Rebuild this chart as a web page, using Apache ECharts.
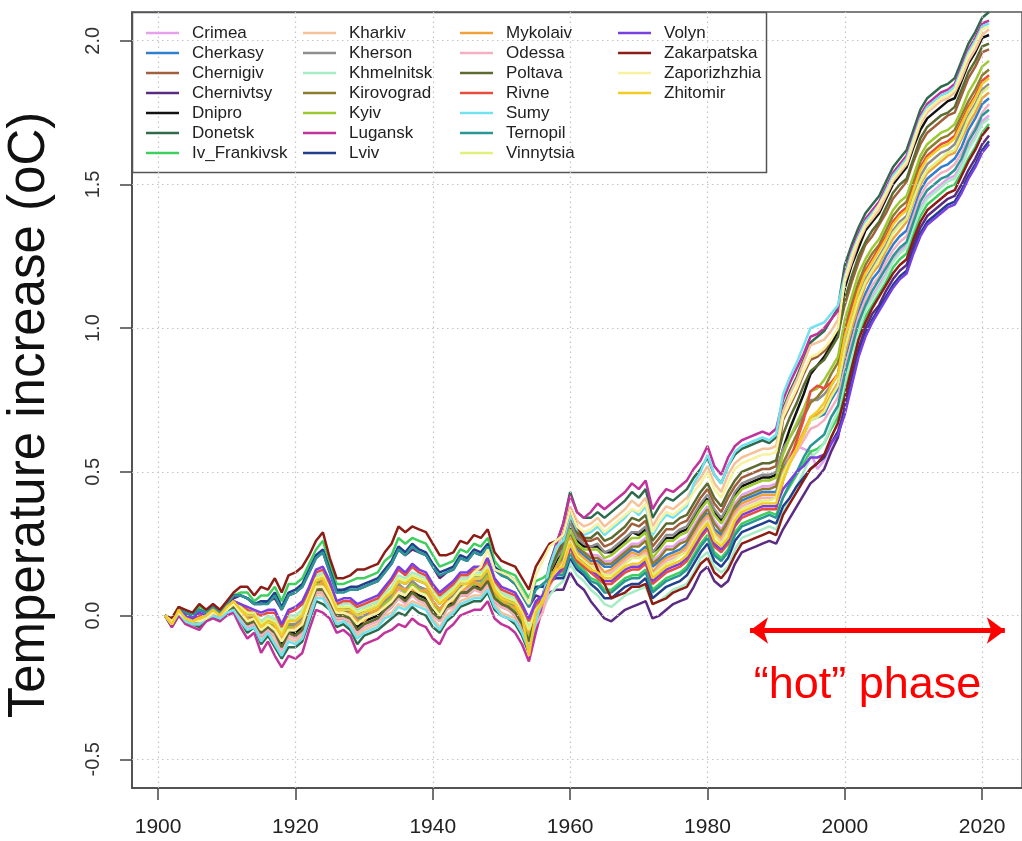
<!DOCTYPE html>
<html><head><meta charset="utf-8">
<script src="https://cdn.jsdelivr.net/npm/echarts@6/dist/echarts.min.js"></script>
<style>html,body{margin:0;padding:0;background:#fff;}#c{width:1022px;height:841px;}</style>
</head><body><div id="c"></div>
<script>
const years = [1901,1902,1903,1904,1905,1906,1907,1908,1909,1910,
1911,1912,1913,1914,1915,1916,1917,1918,1919,1920,
1921,1922,1923,1924,1925,1926,1927,1928,1929,1930,
1931,1932,1933,1934,1935,1936,1937,1938,1939,1940,
1941,1942,1943,1944,1945,1946,1947,1948,1949,1950,
1951,1952,1953,1954,1955,1956,1957,1958,1959,1960,
1961,1962,1963,1964,1965,1966,1967,1968,1969,1970,
1971,1972,1973,1974,1975,1976,1977,1978,1979,1980,
1981,1982,1983,1984,1985,1986,1987,1988,1989,1990,
1991,1992,1993,1994,1995,1996,1997,1998,1999,2000,
2001,2002,2003,2004,2005,2006,2007,2008,2009,2010,
2011,2012,2013,2014,2015,2016,2017,2018,2019,2020,
2021];
const regionNames = ['Crimea','Cherkasy','Chernigiv','Chernivtsy','Dnipro','Donetsk','Iv_Frankivsk',
'Kharkiv','Kherson','Khmelnitsk','Kirovograd','Kyiv','Lugansk','Lviv',
'Mykolaiv','Odessa','Poltava','Rivne','Sumy','Ternopil','Vinnytsia',
'Volyn','Zakarpatska','Zaporizhzhia','Zhitomir'];
const regionColors = ['#e6a0ee','#2e7fd1','#a0603c','#5b2b82','#111111','#2f6a4c','#3fcf5e',
'#f6c29a','#8e8e8e','#a6ecc4','#8c7c2c','#9dc832','#c0329c','#223f8e',
'#f2a23a','#f4afc2','#5c6b30','#e94b3c','#72e2f0','#2a9696','#e2f07e',
'#7a3fe0','#8c1c16','#f8f1a0','#f2cc22'];
const xTicks = [1900,1920,1940,1960,1980,2000,2020];
const yTicks = [-0.5,0,0.5,1,1.5,2];

const crimea = [0,-.03,.01,-.01,-.02,-.02,-.01,.01,-.01,.02,
.03,.01,-.02,-.01,-.05,-.03,-.05,-.09,-.04,-.05,
-.03,.04,.10,.11,.06,.01,.01,0,-.03,-.01,
0,.01,.04,.06,.09,.08,.10,.09,.08,.04,
.01,.04,.06,.09,.09,.11,.11,.14,.07,.05,
.04,.02,-.02,-.07,0,.05,.13,.17,.21,.29,
.24,.22,.21,.21,.19,.19,.21,.23,.25,.25,
.27,.19,.21,.24,.24,.26,.27,.31,.35,.38,
.33,.30,.34,.39,.42,.43,.44,.45,.45,.46,
.52,.56,.59,.58,.57,.51,.54,.59,.64,.82,
.91,1.00,1.07,1.11,1.15,1.19,1.24,1.27,1.29,1.36,
1.42,1.46,1.48,1.50,1.52,1.53,1.57,1.63,1.67,1.72,
1.74];
const cherkasy = [0,-.03,.01,-.01,-.02,-.01,0,.01,0,.02,
.04,.02,0,0,-.03,-.01,-.02,-.06,-.01,-.02,
.01,.07,.13,.14,.08,.03,.03,.02,0,.02,
.03,.04,.07,.09,.12,.11,.13,.12,.11,.07,
.04,.07,.08,.12,.12,.14,.13,.16,.09,.07,
.06,.04,0,-.05,.02,.06,.13,.17,.20,.28,
.23,.21,.19,.19,.17,.17,.19,.21,.23,.22,
.24,.17,.19,.21,.22,.23,.25,.29,.33,.36,
.30,.28,.32,.37,.40,.41,.42,.43,.43,.43,
.51,.55,.59,.63,.68,.69,.70,.75,.79,.89,
.98,1.06,1.12,1.17,1.20,1.25,1.29,1.32,1.34,1.41,
1.48,1.52,1.54,1.56,1.57,1.59,1.63,1.69,1.73,1.78,
1.80];
const chernigiv = [0,-.02,.01,0,-.02,-.01,-.01,.01,0,.02,
.04,.02,-.01,0,-.04,-.02,-.04,-.08,-.03,-.04,
-.02,.05,.11,.12,.07,.02,.02,.01,-.02,0,
.01,.02,.05,.07,.10,.09,.11,.10,.09,.05,
.02,.05,.07,.10,.10,.12,.12,.15,.08,.06,
.05,.03,-.01,-.06,.01,.07,.15,.20,.25,.33,
.28,.26,.26,.27,.24,.25,.27,.29,.32,.31,
.33,.24,.27,.30,.30,.32,.33,.37,.41,.44,
.39,.36,.41,.45,.48,.49,.50,.51,.51,.52,
.68,.73,.78,.84,.89,.90,.92,.95,.99,1.08,
1.16,1.23,1.29,1.32,1.36,1.40,1.45,1.48,1.51,1.58,
1.64,1.68,1.70,1.72,1.74,1.75,1.81,1.87,1.91,1.96,
1.97];
const chernivtsy = [0,-.02,.02,.01,0,.02,.01,.03,.01,.04,
.06,.07,.06,.04,.04,.05,.06,.02,.07,.08,
.10,.15,.20,.22,.15,.08,.09,.09,.09,.10,
.11,.12,.15,.18,.23,.21,.23,.22,.21,.17,
.13,.15,.16,.20,.19,.22,.21,.24,.16,.14,
.13,.11,.07,.03,.07,.06,.08,.09,.09,.15,
.11,.09,.05,.02,-.01,-.02,0,.02,.03,.04,
.05,-.01,0,.02,.04,.05,.06,.10,.15,.17,
.12,.10,.12,.18,.22,.23,.24,.25,.26,.25,
.30,.34,.38,.42,.46,.48,.51,.57,.62,.73,
.83,.93,1.00,1.05,1.08,1.13,1.17,1.20,1.22,1.29,
1.35,1.39,1.41,1.43,1.45,1.46,1.50,1.55,1.59,1.64,
1.67];
const dnipro = [0,-.03,.01,-.02,-.03,-.02,-.01,.01,-.01,.02,
.03,0,-.03,-.02,-.06,-.04,-.06,-.10,-.06,-.06,
-.04,.03,.09,.09,.05,0,0,-.01,-.04,-.02,
-.01,0,.02,.04,.07,.06,.09,.07,.06,.02,
-.01,.03,.05,.08,.08,.10,.10,.13,.06,.04,
.03,.01,-.03,-.09,0,.05,.14,.19,.23,.31,
.26,.24,.24,.24,.22,.22,.24,.26,.29,.28,
.30,.22,.24,.27,.27,.29,.30,.34,.38,.41,
.36,.33,.38,.42,.45,.46,.47,.48,.48,.49,
.58,.65,.71,.77,.84,.87,.90,.94,.99,1.14,
1.22,1.28,1.34,1.37,1.40,1.45,1.50,1.53,1.56,1.63,
1.69,1.73,1.75,1.77,1.79,1.80,1.86,1.92,1.96,2.01,
2.02];
const donetsk = [0,-.04,0,-.02,-.03,-.04,-.02,0,-.02,.01,
.02,-.02,-.06,-.04,-.10,-.07,-.11,-.15,-.11,-.11,
-.09,-.02,.05,.04,.02,-.04,-.03,-.05,-.10,-.07,
-.06,-.05,-.03,-.01,.01,0,.03,.01,0,-.04,
-.06,-.02,0,.03,.04,.05,.05,.08,.02,0,
-.01,-.03,-.07,-.13,-.03,.06,.18,.25,.32,.43,
.36,.34,.34,.36,.34,.36,.38,.40,.43,.41,
.44,.34,.38,.41,.40,.42,.44,.48,.51,.55,
.49,.46,.52,.56,.58,.59,.60,.61,.60,.62,
.72,.78,.83,.89,.95,.97,.99,1.03,1.07,1.22,
1.29,1.35,1.40,1.43,1.46,1.51,1.56,1.59,1.62,1.69,
1.76,1.80,1.82,1.84,1.85,1.87,1.93,1.99,2.03,2.08,
2.10];
const ivFrankivsk = [0,-.01,.03,.01,0,.03,.02,.03,.02,.04,
.07,.08,.08,.05,.07,.07,.10,.05,.11,.11,
.13,.18,.23,.26,.18,.11,.11,.12,.13,.13,
.14,.15,.19,.21,.27,.25,.27,.26,.25,.21,
.17,.18,.19,.23,.22,.25,.24,.27,.19,.16,
.15,.14,.10,.06,.12,.13,.15,.15,.15,.22,
.18,.16,.13,.12,.09,.09,.11,.13,.14,.14,
.16,.09,.11,.13,.14,.15,.17,.21,.25,.28,
.22,.20,.23,.29,.32,.33,.34,.35,.36,.35,
.41,.45,.49,.53,.57,.58,.60,.65,.69,.78,
.88,.97,1.04,1.08,1.12,1.16,1.21,1.24,1.26,1.33,
1.39,1.43,1.45,1.47,1.49,1.50,1.54,1.59,1.63,1.68,
1.71];
const kharkiv = [0,-.03,.01,-.02,-.03,-.03,-.01,0,-.01,.01,
.02,-.01,-.04,-.03,-.08,-.05,-.09,-.13,-.08,-.09,
-.07,0,.07,.07,.03,-.02,-.01,-.03,-.07,-.05,
-.04,-.03,0,.01,.04,.03,.05,.04,.03,-.01,
-.04,0,.02,.05,.06,.07,.07,.10,.04,.01,
0,-.01,-.05,-.11,-.01,.06,.17,.23,.29,.38,
.33,.31,.32,.34,.31,.33,.35,.37,.40,.38,
.41,.31,.35,.38,.37,.39,.41,.45,.48,.52,
.46,.43,.49,.53,.55,.56,.57,.58,.58,.59,
.71,.77,.82,.88,.94,.95,.96,.99,1.03,1.16,
1.23,1.30,1.35,1.38,1.41,1.46,1.51,1.54,1.57,1.64,
1.71,1.75,1.77,1.79,1.80,1.82,1.87,1.93,1.97,2.02,
2.04];
const kherson = [0,-.03,.01,-.01,-.02,-.01,0,.01,0,.02,
.04,.02,-.01,-.01,-.04,-.02,-.03,-.08,-.03,-.03,
-.01,.05,.12,.12,.07,.02,.02,.01,-.01,0,
.01,.02,.05,.07,.11,.09,.12,.10,.09,.05,
.02,.05,.07,.10,.11,.12,.12,.15,.08,.06,
.05,.03,-.01,-.06,.02,.07,.15,.20,.23,.32,
.27,.25,.24,.25,.22,.23,.25,.27,.29,.29,
.31,.22,.25,.28,.28,.30,.31,.35,.39,.42,
.37,.34,.38,.43,.46,.47,.48,.49,.49,.50,
.58,.62,.66,.70,.75,.75,.77,.80,.84,.94,
1.03,1.11,1.17,1.21,1.25,1.29,1.34,1.37,1.39,1.46,
1.53,1.57,1.59,1.61,1.62,1.64,1.69,1.74,1.78,1.83,
1.85];
const khmelnitsk = [0,-.03,.02,-.01,-.02,-.01,0,.02,0,.03,
.05,.03,.01,.01,-.02,0,-.01,-.05,0,0,
.02,.08,.14,.15,.10,.04,.04,.04,.02,.03,
.04,.05,.08,.10,.14,.13,.15,.14,.13,.09,
.06,.08,.10,.13,.13,.15,.15,.18,.11,.08,
.07,.06,.02,-.04,.01,.02,.07,.10,.12,.18,
.14,.12,.09,.07,.04,.03,.05,.07,.08,.09,
.10,.04,.05,.07,.09,.10,.11,.15,.20,.22,
.17,.15,.17,.23,.27,.28,.29,.30,.31,.30,
.36,.41,.45,.50,.55,.57,.60,.66,.71,.81,
.90,.99,1.06,1.10,1.14,1.18,1.23,1.26,1.28,1.35,
1.41,1.45,1.47,1.49,1.51,1.52,1.56,1.62,1.66,1.71,
1.73];
const kirovograd = [0,-.03,.01,-.02,-.03,-.02,-.01,.01,-.01,.02,
.03,-.01,-.04,-.03,-.07,-.05,-.07,-.11,-.07,-.07,
-.05,.02,.08,.08,.04,-.01,-.01,-.02,-.05,-.03,
-.02,-.01,.01,.03,.06,.05,.08,.06,.05,.01,
-.02,.02,.04,.07,.07,.09,.09,.12,.05,.03,
.02,0,-.04,-.10,-.02,.03,.11,.16,.21,.28,
.24,.22,.20,.20,.18,.18,.20,.22,.24,.24,
.26,.18,.20,.23,.23,.25,.26,.30,.34,.37,
.32,.29,.33,.38,.41,.42,.43,.44,.44,.45,
.53,.58,.63,.69,.74,.76,.79,.84,.88,1.00,
1.09,1.16,1.22,1.26,1.29,1.34,1.39,1.42,1.44,1.51,
1.58,1.62,1.64,1.66,1.67,1.69,1.74,1.79,1.83,1.88,
1.90];
const kyiv = [0,-.03,.01,-.01,-.02,-.01,0,.01,0,.02,
.04,.01,-.02,-.02,-.05,-.03,-.04,-.09,-.04,-.04,
-.02,.04,.11,.11,.06,.01,.01,0,-.02,-.01,
0,.01,.04,.06,.10,.08,.11,.09,.08,.04,
.01,.04,.06,.09,.10,.11,.11,.14,.07,.05,
.04,.02,-.02,-.07,.01,.05,.13,.17,.22,.30,
.25,.23,.23,.23,.20,.21,.23,.25,.27,.27,
.29,.20,.23,.26,.26,.28,.29,.33,.37,.40,
.35,.32,.36,.41,.44,.45,.46,.47,.47,.48,
.56,.62,.67,.72,.78,.79,.82,.86,.90,1.03,
1.11,1.19,1.24,1.28,1.31,1.36,1.41,1.44,1.46,1.53,
1.60,1.64,1.66,1.68,1.69,1.71,1.76,1.82,1.86,1.91,
1.93];
const lugansk = [0,-.04,0,-.03,-.04,-.05,-.02,-.01,-.02,0,
.01,-.04,-.08,-.06,-.13,-.09,-.14,-.18,-.14,-.15,
-.13,-.05,.02,.01,-.01,-.06,-.05,-.07,-.13,-.10,
-.09,-.08,-.06,-.05,-.03,-.04,-.01,-.03,-.04,-.08,
-.10,-.05,-.03,0,.01,.02,.02,.05,-.01,-.03,
-.04,-.06,-.10,-.16,-.06,.03,.17,.25,.32,.42,
.36,.34,.36,.39,.37,.39,.41,.43,.46,.44,
.47,.37,.41,.44,.43,.45,.47,.51,.54,.59,
.52,.49,.55,.59,.61,.62,.63,.64,.63,.65,
.75,.81,.86,.91,.97,.98,1.00,1.03,1.06,1.19,
1.27,1.33,1.38,1.41,1.44,1.49,1.54,1.57,1.60,1.67,
1.74,1.78,1.80,1.82,1.83,1.85,1.91,1.97,2.01,2.06,
2.07];
const lviv = [0,-.02,.02,.01,0,.02,.01,.03,.01,.04,
.07,.07,.06,.04,.05,.05,.08,.03,.08,.09,
.11,.16,.21,.23,.16,.09,.09,.10,.10,.11,
.12,.13,.16,.19,.24,.22,.25,.23,.22,.18,
.15,.16,.17,.21,.20,.23,.22,.25,.17,.15,
.14,.12,.08,.04,.10,.10,.12,.13,.13,.20,
.16,.14,.11,.09,.06,.06,.08,.10,.11,.11,
.13,.06,.08,.10,.11,.12,.14,.18,.22,.25,
.19,.17,.20,.26,.29,.30,.31,.32,.33,.32,
.38,.41,.45,.48,.51,.53,.55,.60,.64,.71,
.81,.91,.98,1.03,1.07,1.11,1.15,1.18,1.20,1.27,
1.33,1.37,1.39,1.41,1.43,1.44,1.48,1.53,1.57,1.62,
1.65];
const mykolaiv = [0,-.02,.01,0,-.01,-.02,0,.01,-.01,.02,
.04,.02,-.01,-.02,-.04,-.04,-.04,-.08,-.05,-.04,
-.02,.03,.09,.12,.07,.02,0,.01,-.02,-.02,
.01,.02,.03,.05,.10,.09,.09,.08,.09,.05,
.02,.05,.05,.08,.10,.12,.10,.13,.08,.06,
.03,.03,-.01,-.06,0,.04,.12,.17,.19,.27,
.22,.20,.18,.18,.15,.16,.18,.20,.22,.21,
.23,.15,.18,.20,.21,.22,.24,.28,.32,.35,
.29,.27,.31,.36,.39,.40,.41,.42,.42,.42,
.50,.55,.59,.64,.69,.70,.72,.77,.81,.91,
1.00,1.08,1.15,1.19,1.22,1.27,1.31,1.34,1.37,1.44,
1.50,1.54,1.56,1.58,1.60,1.61,1.66,1.71,1.75,1.80,
1.82];
const odessa = [0,-.03,.01,-.02,-.03,-.03,-.01,0,-.01,.01,
.03,-.01,-.04,-.03,-.07,-.05,-.07,-.12,-.07,-.08,
-.06,.02,.08,.08,.04,-.01,-.01,-.02,-.06,-.04,
-.03,-.02,.01,.03,.06,.04,.07,.05,.04,0,
-.02,.02,.03,.07,.07,.09,.08,.11,.05,.03,
.02,0,-.04,-.10,-.03,.01,.10,.15,.18,.26,
.21,.19,.17,.17,.14,.15,.17,.19,.21,.20,
.22,.14,.17,.19,.20,.21,.23,.27,.31,.34,
.28,.26,.30,.35,.38,.39,.40,.41,.41,.41,
.48,.53,.57,.61,.65,.66,.68,.72,.76,.86,
.95,1.04,1.10,1.15,1.18,1.23,1.27,1.30,1.32,1.39,
1.46,1.50,1.52,1.54,1.55,1.57,1.61,1.66,1.70,1.75,
1.78];
const poltava = [0,-.03,.01,-.02,-.03,-.03,-.01,0,-.01,.01,
.03,0,-.03,-.02,-.06,-.04,-.06,-.11,-.06,-.07,
-.05,.03,.09,.09,.05,0,0,-.01,-.05,-.03,
-.02,-.01,.02,.04,.07,.05,.08,.06,.05,.01,
-.01,.03,.04,.08,.08,.10,.09,.12,.06,.04,
.03,.01,-.03,-.09,0,.06,.15,.21,.26,.35,
.29,.27,.27,.29,.26,.27,.29,.31,.34,.33,
.35,.26,.29,.32,.32,.34,.35,.39,.43,.46,
.41,.38,.43,.47,.50,.51,.52,.53,.53,.54,
.63,.69,.74,.80,.85,.87,.89,.93,.97,1.10,
1.18,1.25,1.30,1.34,1.37,1.42,1.47,1.50,1.52,1.59,
1.66,1.70,1.72,1.74,1.75,1.77,1.83,1.89,1.93,1.98,
1.99];
const rivne = [0,-.02,.02,0,-.01,0,0,.02,0,.03,
.05,.04,.02,.01,0,.01,.01,-.04,.01,.02,
.04,.09,.15,.16,.11,.04,.05,.05,.03,.04,
.05,.06,.09,.12,.16,.14,.17,.15,.14,.10,
.07,.09,.11,.14,.14,.16,.16,.19,.12,.09,
.08,.07,.03,-.02,.04,.06,.11,.14,.16,.23,
.19,.17,.15,.13,.11,.11,.13,.15,.16,.16,
.18,.11,.13,.15,.16,.17,.19,.23,.27,.30,
.24,.22,.25,.31,.34,.35,.36,.37,.37,.37,
.47,.54,.61,.68,.78,.80,.79,.81,.84,.98,
1.07,1.14,1.20,1.24,1.28,1.32,1.37,1.40,1.42,1.49,
1.56,1.60,1.62,1.64,1.65,1.67,1.72,1.77,1.81,1.86,
1.88];
const sumy = [0,-.03,.01,-.02,-.03,-.03,-.01,0,-.01,.01,
.02,-.02,-.05,-.04,-.09,-.06,-.10,-.14,-.09,-.10,
-.08,-.01,.06,.06,.02,-.03,-.02,-.04,-.08,-.06,
-.05,-.04,-.01,0,.03,.02,.04,.03,.02,-.02,
-.05,-.01,.01,.04,.05,.06,.06,.09,.03,0,
-.01,-.02,-.06,-.12,-.02,.06,.17,.24,.26,.35,
.30,.28,.29,.31,.28,.30,.32,.34,.37,.35,
.38,.28,.32,.35,.34,.36,.38,.46,.50,.56,
.49,.46,.52,.57,.59,.60,.61,.62,.61,.63,
.77,.83,.88,.94,1.00,1.01,1.02,1.05,1.08,1.18,
1.26,1.32,1.37,1.40,1.43,1.48,1.53,1.56,1.59,1.66,
1.73,1.77,1.79,1.81,1.82,1.84,1.90,1.96,2.00,2.05,
2.06];
const ternopil = [0,-.02,.02,.01,0,.02,.01,.03,.01,.04,
.07,.07,.06,.04,.04,.04,.07,.02,.07,.08,
.10,.15,.20,.22,.15,.08,.08,.09,.09,.10,
.11,.12,.15,.18,.23,.21,.24,.22,.21,.17,
.14,.15,.16,.20,.19,.22,.21,.24,.16,.14,
.13,.11,.07,.03,.09,.11,.13,.14,.14,.21,
.17,.15,.12,.11,.08,.08,.10,.12,.13,.13,
.15,.08,.10,.12,.13,.14,.16,.20,.24,.27,
.21,.19,.22,.28,.31,.32,.33,.34,.35,.34,
.41,.46,.50,.55,.59,.61,.63,.69,.73,.84,
.93,1.02,1.08,1.13,1.17,1.21,1.25,1.28,1.30,1.37,
1.44,1.48,1.50,1.52,1.53,1.55,1.59,1.65,1.69,1.74,
1.76];
const vinnytsia = [0,-.03,.02,-.01,-.02,-.01,0,.02,0,.03,
.05,.03,.01,.01,-.03,-.01,-.02,-.06,-.01,-.01,
.01,.07,.13,.14,.09,.03,.03,.03,.01,.02,
.03,.04,.07,.09,.13,.12,.14,.13,.12,.08,
.05,.07,.09,.12,.12,.14,.14,.17,.10,.07,
.06,.05,.01,-.05,.02,.05,.12,.15,.18,.26,
.21,.19,.17,.16,.14,.14,.16,.18,.20,.20,
.21,.14,.16,.18,.19,.21,.22,.26,.30,.33,
.28,.25,.29,.34,.37,.38,.39,.40,.40,.41,
.49,.54,.58,.63,.68,.69,.71,.76,.80,.93,
1.02,1.10,1.16,1.20,1.24,1.28,1.33,1.36,1.38,1.45,
1.51,1.55,1.57,1.59,1.61,1.62,1.67,1.73,1.77,1.82,
1.84];
const volyn = [0,-.02,.02,0,-.01,.01,0,.02,0,.03,
.05,.04,.03,.02,.01,.02,.02,-.03,.02,.03,
.05,.10,.16,.17,.12,.05,.06,.06,.04,.05,
.06,.07,.10,.13,.17,.15,.18,.16,.15,.11,
.08,.10,.12,.15,.15,.17,.17,.20,.13,.10,
.09,.08,.04,-.01,.05,.07,.12,.14,.17,.24,
.20,.18,.16,.14,.12,.12,.14,.16,.17,.17,
.19,.12,.14,.16,.17,.18,.20,.24,.28,.31,
.25,.23,.26,.32,.35,.36,.37,.38,.38,.38,
.44,.47,.50,.52,.55,.55,.56,.60,.63,.70,
.80,.90,.97,1.02,1.06,1.10,1.14,1.17,1.19,1.26,
1.32,1.36,1.38,1.40,1.42,1.43,1.47,1.52,1.56,1.61,
1.64];
const zakarpatska = [0,-.01,.03,.02,.01,.04,.02,.04,.02,.05,
.08,.10,.10,.07,.10,.09,.13,.08,.14,.15,
.17,.21,.26,.29,.20,.13,.13,.14,.16,.16,
.17,.18,.22,.25,.31,.29,.31,.30,.29,.25,
.21,.21,.22,.26,.25,.28,.27,.30,.22,.19,
.18,.17,.13,.09,.17,.21,.25,.26,.28,.37,
.31,.27,.22,.16,.11,.06,.07,.08,.10,.10,
.11,.04,.05,.06,.08,.09,.10,.14,.18,.20,
.15,.13,.16,.21,.25,.26,.27,.28,.29,.28,
.35,.39,.43,.47,.51,.53,.56,.62,.67,.76,
.86,.96,1.02,1.07,1.11,1.15,1.19,1.22,1.24,1.31,
1.37,1.41,1.43,1.45,1.47,1.48,1.53,1.58,1.62,1.67,
1.70];
const zaporizhzhia = [0,-.02,.01,-.01,-.02,-.02,-.01,.01,0,.02,
.04,.01,-.02,-.01,-.05,-.03,-.05,-.09,-.05,-.05,
-.03,.04,.10,.10,.06,.01,.01,0,-.03,-.01,
0,.01,.03,.05,.08,.07,.10,.08,.07,.03,
0,.04,.06,.09,.11,.15,.17,.23,.16,.15,
.14,.12,.08,.04,.14,.19,.24,.26,.28,.37,
.31,.29,.30,.32,.29,.31,.33,.35,.37,.36,
.39,.29,.33,.36,.35,.37,.39,.43,.46,.50,
.44,.41,.46,.51,.53,.54,.55,.56,.56,.57,
.69,.74,.79,.85,.90,.91,.93,.96,1.00,1.17,
1.25,1.31,1.36,1.39,1.43,1.47,1.52,1.55,1.58,1.65,
1.72,1.76,1.78,1.80,1.81,1.83,1.89,1.95,1.99,2.04,
2.05];
const zhitomir = [0,-.03,.02,-.01,-.02,-.01,0,.02,0,.03,
.05,.02,0,0,-.04,-.02,-.03,-.07,-.02,-.02,
0,.06,.12,.13,.08,.02,.02,.02,0,.01,
.02,.03,.06,.08,.12,.11,.13,.12,.11,.07,
.04,.06,.08,.11,.11,.13,.13,.16,.09,.06,
.05,.04,0,-.14,.01,.05,.12,.16,.17,.25,
.20,.18,.16,.15,.13,.13,.15,.17,.18,.18,
.20,.13,.15,.17,.18,.19,.21,.25,.29,.32,
.26,.24,.27,.33,.36,.37,.38,.39,.39,.39,
.47,.53,.58,.63,.69,.71,.74,.80,.84,.97,
1.05,1.13,1.19,1.23,1.27,1.31,1.36,1.39,1.41,1.48,
1.55,1.59,1.61,1.63,1.64,1.66,1.71,1.76,1.80,1.85,
1.87];

const regionValues = [crimea,cherkasy,chernigiv,chernivtsy,dnipro,donetsk,ivFrankivsk,
kharkiv,kherson,khmelnitsk,kirovograd,kyiv,lugansk,lviv,
mykolaiv,odessa,poltava,rivne,sumy,ternopil,vinnytsia,
volyn,zakarpatska,zaporizhzhia,zhitomir];

const FONT = "'Liberation Sans', Arial, Helvetica, sans-serif";
const chart = echarts.init(document.getElementById('c'), null, {renderer:'canvas', width:1022, height:841});

const gridSeries = {
  type:'line', name:'__grid', data:[], silent:true, z:1,
  markLine:{
    silent:true, symbol:['none','none'], animation:false,
    label:{show:false},
    lineStyle:{color:'#c4c4c4', width:1.2, type:[1.5,3.5]},
    data: xTicks.map(v=>({xAxis:v})).concat(yTicks.map(v=>({yAxis:v})))
  }
};
const arrowSeries = {
  type:'line', name:'__arrow', data:[], silent:true, z:6,
  markLine:{
    silent:true, symbol:['arrow','arrow'], symbolSize:[20,18], animation:false,
    label:{show:false},
    lineStyle:{color:'#ff0000', width:5, type:'solid'},
    data:[[{coord:[1986.2,-0.052]},{coord:[2023.3,-0.052]}]]
  }
};
const lineSeries = regionNames.map((n,i)=>({
  name:n, type:'line', symbol:'none', showSymbol:false, silent:true, z:2,
  data: years.map((y,j)=>[y, regionValues[i][j]]),
  lineStyle:{width:2.5, color:regionColors[i]},
  itemStyle:{color:regionColors[i]}
}));

const legendCols = [regionNames.slice(0,7), regionNames.slice(7,14), regionNames.slice(14,21), regionNames.slice(21)];
const legendLefts = [146, 303, 460, 618];
const legends = legendCols.map((cols,k)=>({
  orient:'vertical', left:legendLefts[k], top:23, padding:0,
  icon:'rect', itemWidth:33, itemHeight:2.5, itemGap:0, selectedMode:false, z:6,
  textStyle:{fontSize:17, color:'#222', fontFamily:FONT, lineHeight:20, padding:[0,0,0,8]},
  data: cols
}));

chart.setOption({
  animation:false,
  backgroundColor:'#ffffff',
  textStyle:{fontFamily:FONT},
  grid:{left:132, top:12, width:894, height:776, show:true, borderColor:'#555', borderWidth:1.5, backgroundColor:'transparent'},
  legend: legends,
  xAxis:{
    type:'value', min:1896.2, max:2025.8,
    axisLine:{show:true, onZero:false, lineStyle:{color:'#444', width:1.5}},
    axisTick:{show:true, customValues:xTicks, length:12, lineStyle:{color:'#444', width:1.5}},
    axisLabel:{customValues:xTicks, fontSize:21, color:'#222', margin:29, fontFamily:FONT,
      formatter:(v)=>String(Math.round(v))},
    splitLine:{show:false}
  },
  yAxis:{
    type:'value', min:-0.6, max:2.1,
    axisLine:{show:true, onZero:false, lineStyle:{color:'#444', width:1.5}},
    axisTick:{show:true, customValues:yTicks, length:12, lineStyle:{color:'#444', width:1.5}},
    axisLabel:{customValues:yTicks, fontSize:20, color:'#333', margin:29, rotate:90, fontFamily:FONT,
      formatter:(v)=>Number(v).toFixed(1)},
    splitLine:{show:false}
  },
  series:[gridSeries].concat(lineSeries).concat([arrowSeries])
});

const hotPos = chart.convertToPixel({xAxisIndex:0, yAxisIndex:0}, [2003.3, -0.245]);
chart.setOption({
  graphic:[
    {type:'rect', id:'legendBox', z:3, shape:{x:132.5, y:12.5, width:634, height:160},
      style:{fill:'#ffffff', stroke:'#555', lineWidth:1.5}},
    {type:'text', id:'ytitle', x:30, y:415, rotation:Math.PI/2, z:10,
      style:{text:'Temperature increase (oC)', font:"51px " + FONT, fill:'#111', align:'center', verticalAlign:'middle'}},
    {type:'text', id:'hot', x:hotPos[0], y:hotPos[1], z:10,
      style:{text:'\u201chot\u201d phase', font:"45px " + FONT, fill:'#ff0000', align:'center', verticalAlign:'middle'}}
  ]
});
</script>
</body></html>
